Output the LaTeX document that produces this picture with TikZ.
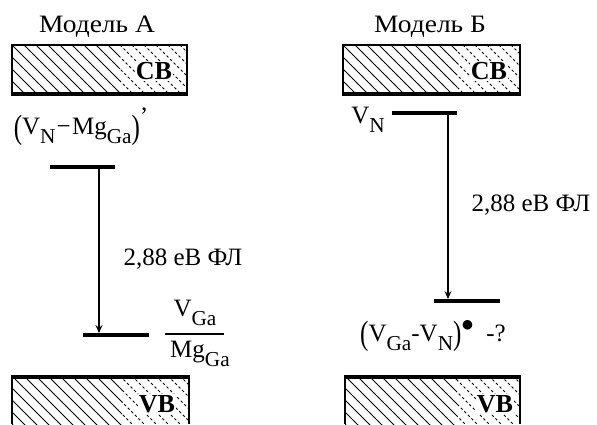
\documentclass[tikz,border=0pt]{standalone}
\usepackage{fontspec}
\setmainfont{Liberation Serif}
\usetikzlibrary{arrows.meta}
\tikzset{
  lbl/.style={inner sep=0pt, font=\fontsize{25}{29}\selectfont},
  titlelbl/.style={inner sep=0pt, font=\fontsize{25}{29}\selectfont, xscale=1.1},
  bandlbl/.style={inner sep=0pt, font=\fontsize{26}{30}\selectfont\bfseries},
  level/.style={line width=4pt},
  trans/.style={line width=1.3pt, -{Stealth[length=8pt,width=7pt,inset=3pt]}},
  hatchline/.style={line width=1pt},
  hatchdash/.style={line width=1pt, dash pattern=on 2.5pt off 2.5pt},
  thinedge/.style={line width=1.4pt},
  thickedge/.style={line width=3.5pt},
}
\newcommand\lowsub[1]{\raisebox{-0.36em}{\scalebox{0.85}{#1}}}
\newcommand\tallparen[1]{\raisebox{-0.14em}{\scalebox{1}[1.35]{#1}}}
% \hatchband{x1}{y1}{x2}{y2}{xsplit}
\newcommand\hatchband[5]{%
  \begin{scope}
    \clip (#1,#2) rectangle (#5,#4);
    \foreach \k in {-60,-48,...,200} {
      \draw[hatchline] (#1+\k,#2) -- ++(60,60);
    }
  \end{scope}
  \begin{scope}
    \clip (#5,#2) rectangle (#3,#4);
    \foreach \k in {-60,-48,...,200} {
      \draw[hatchdash] (#1+\k,#2) -- ++(60,60);
    }
  \end{scope}}
\begin{document}
\begin{tikzpicture}[x=1pt,y=-1pt]
\useasboundingbox (0,0) rectangle (597,424);

% ---------- Model A ----------
\node[titlelbl] (titleA) at (97,27) {Модель А};
\hatchband{12}{45}{187}{95}{120}
\draw[thinedge] (12,95) -- (12,45) -- (187,45) -- (187,95);
\draw[thickedge] (11,94) -- (188,94);
\node[bandlbl,fill=white,inner sep=1pt] (cbA) at (154,71) {CB};

\hatchband{12}{376}{189}{424}{122}
\draw[thinedge] (12,424) -- (12,376);
\draw[thinedge] (189,424) -- (189,376);
\draw[thickedge] (11,377) -- (190,377);
\node[bandlbl,fill=white,inner sep=1pt] (vbA) at (157,404) {VB};

\node[lbl] (donorA) at (81,127) {\tallparen{(}V\lowsub{N}\kern0.05em−\kern0.05emMg\lowsub{Ga}\tallparen{)}\raisebox{0.4em}{'}};

\coordinate (upAl) at (50,167);
\coordinate (upAr) at (115,167);
\draw[level] (upAl) -- (upAr);
\coordinate (loAl) at (83,335);
\coordinate (loAr) at (149,335);
\draw[level] (loAl) -- (loAr);
\coordinate (trAs) at (99,167);
\coordinate (trAe) at (99,333);
\draw[trans] (trAs) -- (trAe);
\node[lbl] (enA) at (183,259) {2,88 еВ ФЛ};

\node[lbl] (numA) at (195,313) {V\lowsub{Ga}};
\coordinate (fracl) at (165,334);
\coordinate (fracr) at (224,334);
\draw[line width=1.4pt] (fracl) -- (fracr);
\node[lbl] (denA) at (200,354) {Mg\lowsub{Ga}};

% ---------- Model B ----------
\node[titlelbl] (titleB) at (430,27) {Модель Б};
\hatchband{343}{45}{520}{95}{457}
\draw[thinedge] (343,95) -- (343,45) -- (520,45) -- (520,95);
\draw[thickedge] (342,94) -- (521,94);
\node[bandlbl,fill=white,inner sep=1pt] (cbB) at (489,71) {CB};

\hatchband{345}{376}{520}{424}{457}
\draw[thinedge] (345,424) -- (345,376);
\draw[thinedge] (520,424) -- (520,376);
\draw[thickedge] (344,377) -- (521,377);
\node[bandlbl,fill=white,inner sep=1pt] (vbB) at (495,404) {VB};

\node[lbl] (donorB) at (368,120) {V\lowsub{N}};
\coordinate (upBl) at (392,113);
\coordinate (upBr) at (457,113);
\draw[level] (upBl) -- (upBr);
\coordinate (loBl) at (434,301);
\coordinate (loBr) at (500,301);
\draw[level] (loBl) -- (loBr);
\coordinate (trBs) at (448,113);
\coordinate (trBe) at (448,299);
\draw[trans] (trBs) -- (trBe);
\node[lbl] (enB) at (531,205) {2,88 еВ ФЛ};

\node[lbl] (accB) at (433,336) {\tallparen{(}V\lowsub{Ga}-V\lowsub{N}\tallparen{)}\raisebox{0.4em}{$\bullet$}\ \ -?};
\end{tikzpicture}
\end{document}
